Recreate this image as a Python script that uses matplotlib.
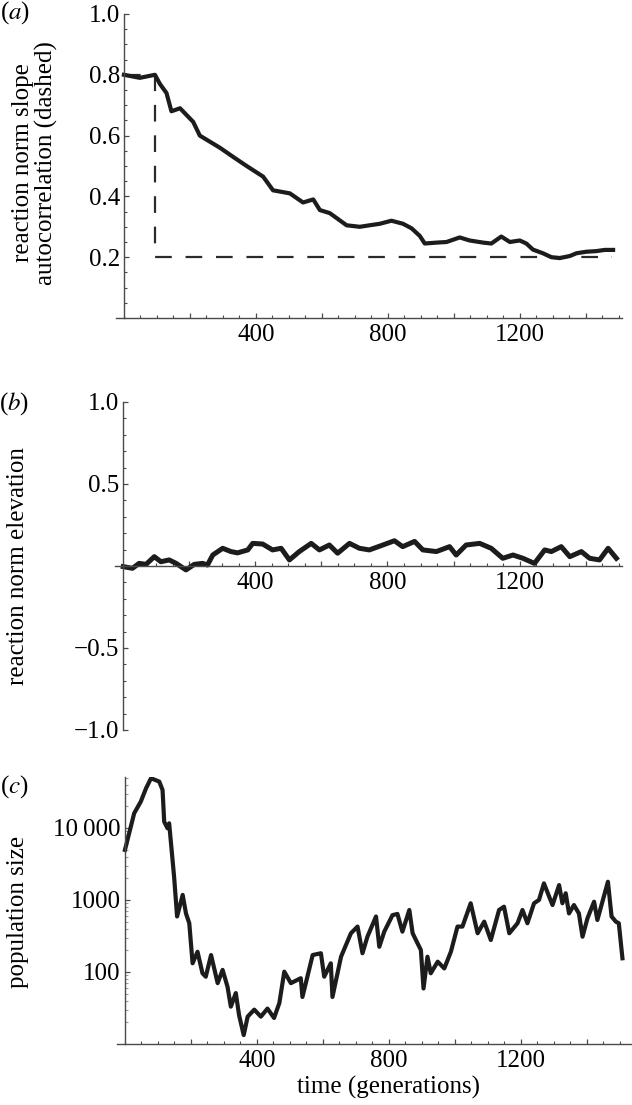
"""Three stacked time-series panels: reaction norm slope, elevation and
population size over generations (Mathematica-style axes)."""

import matplotlib

matplotlib.use("Agg")
import matplotlib.pyplot as plt
from matplotlib.ticker import FixedLocator, FuncFormatter, LogLocator, MultipleLocator, NullFormatter

plt.rcParams["font.family"] = ["Liberation Serif", "DejaVu Serif"]
plt.rcParams["mathtext.fontset"] = "stix"

# ---- data ------------------------------------------------------------------
slope_t = [0, 48, 94, 109, 129, 144, 170, 210, 230, 291, 331, 372, 422, 452, 503,
           543, 574, 594, 624, 675, 715, 745, 776, 811, 846, 872, 897, 912, 948,
           978, 1018, 1048, 1089, 1114, 1144, 1170, 1200, 1220, 1240, 1270, 1296,
           1321, 1352, 1372, 1402, 1432, 1458, 1483]
slope_v = [0.80, 0.79, 0.80, 0.77, 0.74, 0.68, 0.69, 0.645, 0.60, 0.56, 0.53, 0.50,
           0.465, 0.42, 0.41, 0.38, 0.39, 0.355, 0.345, 0.305, 0.30, 0.305, 0.31,
           0.32, 0.31, 0.295, 0.27, 0.245, 0.248, 0.25, 0.265, 0.255, 0.248, 0.245,
           0.268, 0.25, 0.255, 0.245, 0.225, 0.213, 0.20, 0.197, 0.204, 0.213,
           0.218, 0.22, 0.224, 0.224]

autocorr_t = [0, 95, 95, 1480]
autocorr_v = [0.8, 0.8, 0.2, 0.2]

elev_t = [0, 28, 48, 69, 94, 114, 139, 160, 190, 215, 240, 255, 271, 301, 326, 346,
          377, 392, 422, 452, 478, 503, 533, 569, 594, 624, 649, 685, 715, 745, 786,
          821, 846, 882, 907, 948, 988, 1008, 1038, 1079, 1114, 1149, 1180, 1210,
          1245, 1276, 1296, 1326, 1352, 1387, 1412, 1442, 1468, 1493]
elev_v = [-0.004, -0.014, 0.016, 0.010, 0.057, 0.026, 0.037, 0.016, -0.024, 0.010,
          0.016, 0.006, 0.067, 0.108, 0.088, 0.080, 0.098, 0.138, 0.134, 0.098,
          0.108, 0.037, 0.088, 0.138, 0.098, 0.128, 0.078, 0.138, 0.108, 0.098,
          0.128, 0.154, 0.118, 0.150, 0.098, 0.088, 0.118, 0.067, 0.128, 0.138,
          0.108, 0.047, 0.067, 0.047, 0.016, 0.098, 0.088, 0.118, 0.057, 0.088,
          0.047, 0.037, 0.108, 0.047]

pop_t = [0, 28, 48, 64, 79, 104, 114, 119, 129, 134, 149, 158, 175, 185, 195, 205,
         220, 235, 245, 261, 281, 296, 311, 321, 336, 346, 360, 372, 392, 412, 432,
         452, 468, 483, 503, 533, 538, 569, 594, 604, 624, 629, 655, 685, 705, 720,
         735, 761, 771, 786, 811, 826, 841, 862, 872, 887, 897, 905, 917, 927, 948,
         968, 988, 1008, 1023, 1048, 1069, 1089, 1109, 1134, 1149, 1165, 1190, 1205,
         1220, 1240, 1255, 1270, 1296, 1316, 1326, 1336, 1346, 1361, 1376, 1387,
         1402, 1422, 1432, 1464, 1475, 1488, 1497, 1508]
pop_v = [4950, 16000, 23200, 35600, 49000, 44000, 33700, 12200, 9900, 11600, 2100,
         590, 1175, 650, 475, 132, 191, 96, 86, 172, 70, 107, 62, 33, 51, 25, 13.3,
         24, 30, 24, 31, 23, 37, 101, 70, 82, 45, 172, 182, 86, 132, 45, 163, 345,
         427, 182, 309, 590, 224, 363, 616, 640, 363, 726, 345, 250, 202, 59, 163,
         96, 139, 112, 191, 427, 427, 900, 345, 500, 278, 726, 807, 345, 475, 726,
         475, 900, 1000, 1700, 850, 1610, 900, 1240, 650, 850, 650, 309, 557, 946,
         527, 1790, 590, 500, 475, 155]

x_labelled = [400, 800, 1200]

# ---- layout ----------------------------------------------------------------
W, H = 632, 1105
fig = plt.figure(figsize=(W / 100, H / 100), dpi=100)


def px_axes(left, right, top, bottom):
    return fig.add_axes([left / W, 1 - bottom / H, (right - left) / W, (bottom - top) / H])


AX_COLOR = "#4a4a4a"
LINE_COLOR = "#1c1c1c"
FS = 18


def style_axes(ax):
    for side in ("top", "right"):
        ax.spines[side].set_visible(False)
    for side in ("left", "bottom"):
        ax.spines[side].set_color(AX_COLOR)
        ax.spines[side].set_linewidth(1.0)
    ax.spines["left"].set_position(("data", 0))
    ax.tick_params(which="both", direction="in", color=AX_COLOR, labelsize=FS)
    ax.tick_params(which="major", length=3.5, width=0.9)
    ax.tick_params(which="minor", length=2.2, width=0.8)
    ax.tick_params(axis="x", which="major", pad=4)
    ax.tick_params(axis="y", which="major", pad=3)
    ax.xaxis.set_major_locator(FixedLocator(range(200, 1600, 200)))
    ax.xaxis.set_major_formatter(FuncFormatter(lambda v, p: f"{v:.0f}" if v in x_labelled else ""))
    ax.xaxis.set_minor_locator(MultipleLocator(50))


# (a) reaction norm slope
ax_a = px_axes(115.7, 622, 14, 318)
style_axes(ax_a)
ax_a.plot(autocorr_t, autocorr_v, color="#2a2a2a", lw=1.6, dashes=(7.5, 6.2), zorder=1)
ax_a.plot(slope_t, slope_v, color=LINE_COLOR, lw=3.0, zorder=2)
ax_a.set_xlim(-25, 1510)
ax_a.set_ylim(0, 1.0)
ax_a.yaxis.set_major_locator(FixedLocator([0.2, 0.4, 0.6, 0.8, 1.0]))
ax_a.yaxis.set_major_formatter(FuncFormatter(lambda v, p: f"{v:.1f}"))
ax_a.yaxis.set_minor_locator(MultipleLocator(0.05))

# (b) reaction norm elevation
ax_b = px_axes(115, 622, 402, 730)
style_axes(ax_b)
ax_b.spines["bottom"].set_position(("data", 0))
ax_b.plot(elev_t, elev_v, color=LINE_COLOR, lw=3.6)
ax_b.set_xlim(-25, 1510)
ax_b.set_ylim(-1.0, 1.0)
ax_b.yaxis.set_major_locator(FixedLocator([-1.0, -0.5, 0.5, 1.0]))
ax_b.yaxis.set_major_formatter(FuncFormatter(lambda v, p: f"{v:.1f}".replace("-", "\u2212")))
ax_b.yaxis.set_minor_locator(MultipleLocator(0.1))

# (c) population size
ax_c = px_axes(116.7, 633, 777, 1044)
style_axes(ax_c)
ax_c.plot(pop_t, pop_v, color=LINE_COLOR, lw=3.0)
ax_c.set_yscale("log")
ax_c.set_xlim(-25, 1540)
ax_c.set_ylim(10, 51000)
ax_c.yaxis.set_major_locator(FixedLocator([100, 1000, 10000]))
ax_c.yaxis.set_major_formatter(FuncFormatter(lambda v, p: {100: "100", 1000: "1000", 10000: "10\u2009000"}.get(int(round(v)), "")))
ax_c.yaxis.set_minor_locator(LogLocator(base=10, subs=range(2, 10)))
ax_c.yaxis.set_minor_formatter(NullFormatter())
ax_c.tick_params(axis="y", which="minor", color="#9a9a9a")

# labels
fig.text(35 / W, 1 - 163 / H, "reaction norm slope\nautocorrelation (dashed)", rotation=90,
         ha="center", va="center", multialignment="center", fontsize=FS, linespacing=1.0)
fig.text(18 / W, 1 - 566 / H, "reaction norm elevation", rotation=90, ha="center", va="center", fontsize=FS)
fig.text(18 / W, 1 - 912 / H, "population size", rotation=90, ha="center", va="center", fontsize=FS)
fig.text(389 / W, 1 - 1087 / H, "time (generations)", ha="center", va="center", fontsize=FS)

for label, (x, y) in zip(["a", "b", "c"], [(15, 13), (14, 404), (14, 787)]):
    fig.text(x / W, 1 - y / H, f"(${label}$)", ha="center", va="center", fontsize=FS)

fig.savefig("out.png", dpi=100)
